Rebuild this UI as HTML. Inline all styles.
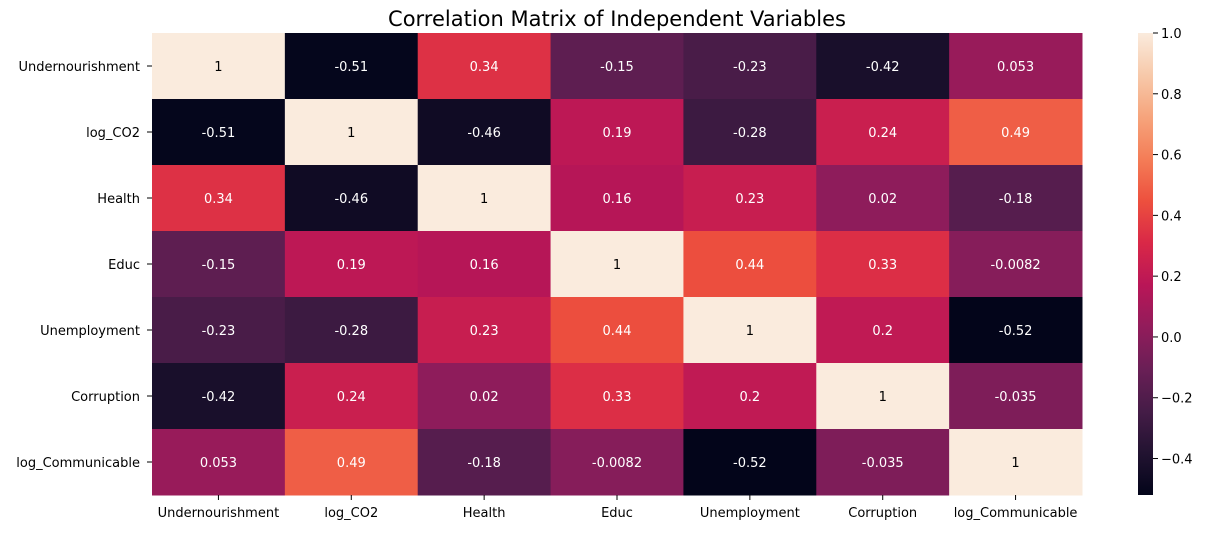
<!DOCTYPE html>
<html><head><meta charset="utf-8"><style>
body{margin:0;background:#fff;font-family:"DejaVu Sans","Liberation Sans",sans-serif}
svg text{font-family:"DejaVu Sans","Liberation Sans",sans-serif}
</style></head><body>
<svg id="c" width="1216" height="530">
<text x="617" y="26" font-size="21" text-anchor="middle">Correlation Matrix of Independent Variables</text>
<defs><linearGradient id="g" x1="0" y1="1" x2="0" y2="0"></linearGradient></defs>
</svg>
<script>
const labels=["Undernourishment","log_CO2","Health","Educ","Unemployment","Corruption","log_Communicable"];
const matrix=[
[1,-0.51,0.34,-0.15,-0.23,-0.42,0.053],
[-0.51,1,-0.46,0.19,-0.28,0.24,0.49],
[0.34,-0.46,1,0.16,0.23,0.02,-0.18],
[-0.15,0.19,0.16,1,0.44,0.33,-0.0082],
[-0.23,-0.28,0.23,0.44,1,0.2,-0.52],
[-0.42,0.24,0.02,0.33,0.2,1,-0.035],
[0.053,0.49,-0.18,-0.0082,-0.52,-0.035,1]];
const cbTicks=[-0.4,-0.2,0.0,0.2,0.4,0.6,0.8,1.0];
const vmin=-0.52,vmax=1.0;
const stops=["#03051A","#221331","#451C47","#6A1F56","#921C5B","#B91657","#D92847","#ED503E","#F47D57","#F6A47C","#F7C9AA","#FAEBDD"];
function hex(h){return [1,3,5].map(i=>parseInt(h.substr(i,2),16));}
function cmap(v){let t=Math.max(0,Math.min(1,(v-vmin)/(vmax-vmin)))*(stops.length-1);let i=Math.min(Math.floor(t),stops.length-2),f=t-i;const a=hex(stops[i]),b=hex(stops[i+1]);return `rgb(${a.map((x,k)=>Math.round(x+(b[k]-x)*f)).join(',')})`;}
const NS="http://www.w3.org/2000/svg",svg=document.getElementById('c');
function el(t,a,p){const e=document.createElementNS(NS,t);for(const k in a)e.setAttribute(k,a[k]);(p||svg).appendChild(e);return e;}
const x0=152,y0=33,W=930,H=462,n=labels.length,cw=W/n,ch=H/n;
function fmt(v){return String(v);}
matrix.forEach((row,r)=>row.forEach((v,c)=>{
 const rc=el('rect',{x:x0+c*cw,y:y0+r*ch,width:cw+0.5,height:ch+0.5,fill:cmap(v)});
 
 
 const tx=el('text',{x:x0+(c+0.5)*cw,y:y0+(r+0.5)*ch+5,'font-size':13,'text-anchor':'middle',fill:v>0.7?'#000':'#fff'});
 tx.textContent=fmt(v);
 
 
}));
labels.forEach((l,i)=>{
 const t=el('text',{x:x0-12,y:y0+(i+0.5)*ch+5,'font-size':13,'text-anchor':'end'});t.textContent=l;
 
 
 el('line',{x1:x0-5,x2:x0,y1:y0+(i+0.5)*ch,y2:y0+(i+0.5)*ch,stroke:'#000'});
 const u=el('text',{x:x0+(i+0.5)*cw,y:y0+H+22,'font-size':13,'text-anchor':'middle'});u.textContent=l;
 
 
 el('line',{x1:x0+(i+0.5)*cw,x2:x0+(i+0.5)*cw,y1:y0+H,y2:y0+H+5,stroke:'#000'});
});
const g=document.getElementById('g');
stops.forEach((s,i)=>el('stop',{offset:i/(stops.length-1),'stop-color':s},g));
const cbx=1138,cbw=15;
const cb=el('rect',{x:cbx,y:y0,width:cbw,height:H,fill:'url(#g)'});


function cy(v){return y0+H-(v-vmin)/(vmax-vmin)*H;}
cbTicks.forEach(v=>{
 el('line',{x1:cbx+cbw,x2:cbx+cbw+5,y1:cy(v),y2:cy(v),stroke:'#000'});
 const t=el('text',{x:cbx+cbw+8,y:cy(v)+5,'font-size':13});t.textContent=(v<0?'\u2212':'')+Math.abs(v).toFixed(1);
 
 
});
</script>
</body></html>
